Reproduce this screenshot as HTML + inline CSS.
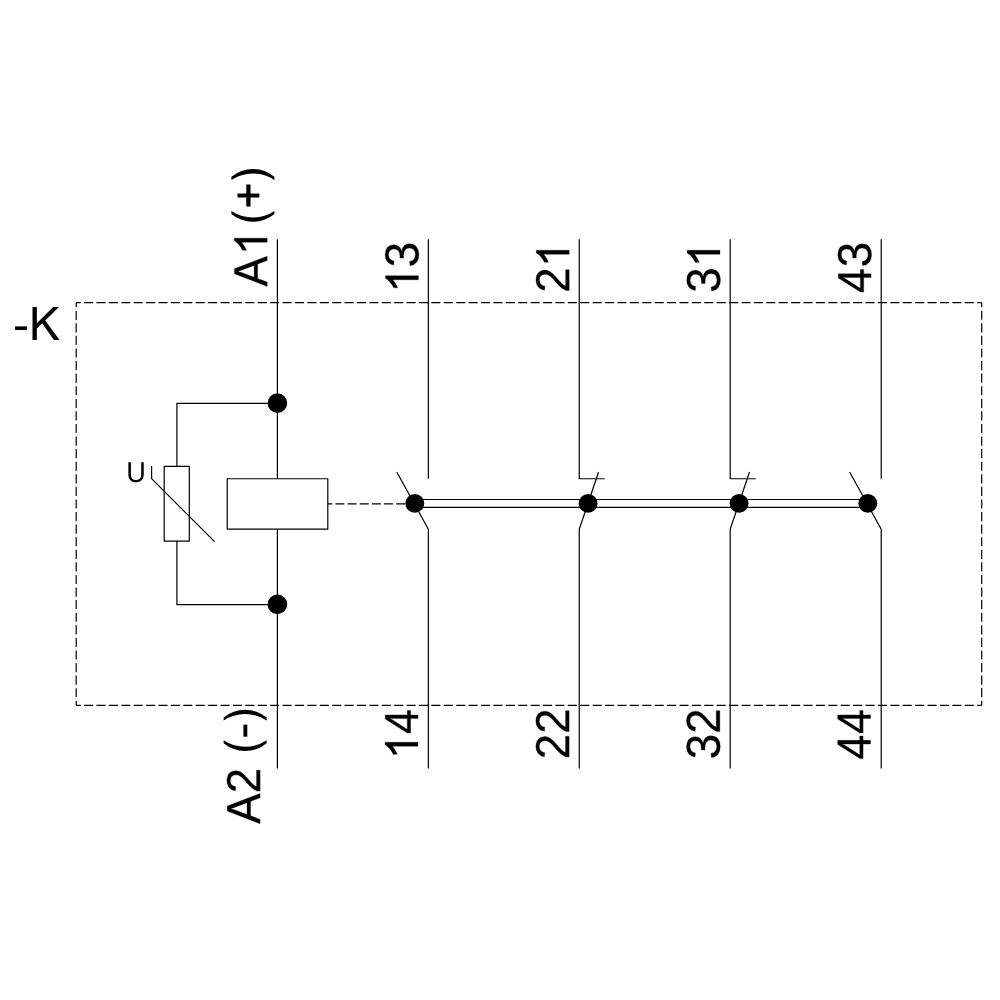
<!DOCTYPE html>
<html><head><meta charset="utf-8"><style>
html,body{margin:0;padding:0;background:#fff;width:1000px;height:1000px;overflow:hidden}
svg{display:block}
</style></head><body>
<svg width="1000" height="1000" viewBox="0 0 1000 1000">
<rect width="1000" height="1000" fill="#fff"/>
<g stroke="#000" fill="none"><line x1="76.2" y1="302.7" x2="981.7" y2="302.7" stroke-dasharray="9.055 3.349" stroke-dashoffset="4.527" stroke-width="1.2"/><line x1="981.7" y1="302.7" x2="981.7" y2="705.3" stroke-dasharray="9.184 3.397" stroke-dashoffset="4.592" stroke-width="1.2"/><line x1="981.7" y1="705.3" x2="76.2" y2="705.3" stroke-dasharray="9.055 3.349" stroke-dashoffset="4.527" stroke-width="1.2"/><line x1="76.2" y1="705.3" x2="76.2" y2="302.7" stroke-dasharray="9.184 3.397" stroke-dashoffset="4.592" stroke-width="1.2"/><path d="M277.4 239.2V478.75M277.4 529.2V768.4M227.2 478.75H327.8V529.2H227.2ZM164.2 466.3H189.3V541.2H164.2ZM277.4 403.45H176.9V466.3M176.9 541.2V604.6H277.4M151.6 466V478.7L214.6 541.7M428.35 239.2V478.8M428.35 768.4V529.2L396.75 472M579.25 239.2V478.75H604.75M579.25 768.4V529.2L598.55 472M730.2 239.2V478.75H755.7M730.2 768.4V529.2L749.5 472M881.2 239.2V478.8M881.2 768.4V529.2L849.6 472M414.8 499.5H867.8M414.8 507.3H867.8" stroke-width="1.2" stroke-linejoin="round" fill="none"/><line x1="327.8" y1="503.8" x2="405.5" y2="503.8" stroke-dasharray="9 3.15" stroke-dashoffset="4.5" stroke-width="1.2"/><g stroke="none" fill="#000"><circle cx="277.4" cy="403.1" r="9.85"/><circle cx="277.4" cy="604.4" r="9.85"/><circle cx="414.8" cy="503.4" r="9.45"/><circle cx="588.1" cy="503.4" r="9.45"/><circle cx="739.1" cy="503.35" r="9.45"/><circle cx="867.8" cy="503.4" r="9.45"/></g></g>
<g fill="#000" stroke="#000"><g transform="translate(267.20,286.60) rotate(-90)" stroke-width="13.4"><path transform="translate(0.000,0) scale(0.022363,-0.023258)" d="M1167 0 1006 412H364L202 0H4L579 1409H796L1362 0ZM685 1265 676 1237Q651 1154 602 1024L422 561H949L768 1026Q740 1095 712 1182Z"/><path transform="translate(31.348,0) scale(0.022363,-0.022363)" d="M763 0L583 0L583 1147Q518 1085 412 1023Q306 961 222 930L222 1104Q373 1175 486 1276Q599 1377 646 1472L763 1472Z"/></g><g transform="translate(264.75,224.70) rotate(-90)" stroke-width="13.4"><path transform="translate(0.000,0) scale(0.022363,-0.022363)" stroke="none" d="M478 1491A1501 1501 0 0 1 478 -431L617 -431A1732 1732 0 0 0 617 1491Z"/><path transform="translate(15.252,0) scale(0.022363,-0.022363)" stroke="none" d="M132 636H535V240H715V636H1115V826H715V1220H535V826H132Z"/><path transform="translate(43.350,0) scale(0.022363,-0.022363)" stroke="none" d="M204 1491A1501 1501 0 0 0 204 -431L65 -431A1732 1732 0 0 1 65 1491Z"/></g><g transform="translate(260.10,823.90) rotate(-90)" stroke-width="13.4"><path transform="translate(0.000,0) scale(0.022363,-0.023258)" d="M1167 0 1006 412H364L202 0H4L579 1409H796L1362 0ZM685 1265 676 1237Q651 1154 602 1024L422 561H949L768 1026Q740 1095 712 1182Z"/><path transform="translate(30.548,0) scale(0.022363,-0.023258)" d="M103 0V127Q154 244 227.5 333.5Q301 423 382.0 495.5Q463 568 542.5 630.0Q622 692 686.0 754.0Q750 816 789.5 884.0Q829 952 829 1038Q829 1154 761.0 1218.0Q693 1282 572 1282Q457 1282 382.5 1219.5Q308 1157 295 1044L111 1061Q131 1230 254.5 1330.0Q378 1430 572 1430Q785 1430 899.5 1329.5Q1014 1229 1014 1044Q1014 962 976.5 881.0Q939 800 865.0 719.0Q791 638 582 468Q467 374 399.0 298.5Q331 223 301 153H1036V0Z"/></g><g transform="translate(257.00,754.00) rotate(-90)" stroke-width="13.4"><path transform="translate(0.000,0) scale(0.022363,-0.022363)" stroke="none" d="M478 1491A1501 1501 0 0 1 478 -431L617 -431A1732 1732 0 0 0 617 1491Z"/><path transform="translate(15.252,0) scale(0.022363,-0.022363)" stroke="none" d="M92 434H630V608H92Z"/><path transform="translate(31.950,0) scale(0.022363,-0.022363)" stroke="none" d="M204 1491A1501 1501 0 0 0 204 -431L65 -431A1732 1732 0 0 1 65 1491Z"/></g><g transform="translate(418.40,292.80) rotate(-90)" stroke-width="13.4"><path transform="translate(0.000,0) scale(0.022363,-0.022363)" d="M763 0L583 0L583 1147Q518 1085 412 1023Q306 961 222 930L222 1104Q373 1175 486 1276Q599 1377 646 1472L763 1472Z"/><path transform="translate(25.472,0) scale(0.022363,-0.023258)" d="M1049 389Q1049 194 925.0 87.0Q801 -20 571 -20Q357 -20 229.5 76.5Q102 173 78 362L264 379Q300 129 571 129Q707 129 784.5 196.0Q862 263 862 395Q862 510 773.5 574.5Q685 639 518 639H416V795H514Q662 795 743.5 859.5Q825 924 825 1038Q825 1151 758.5 1216.5Q692 1282 561 1282Q442 1282 368.5 1221.0Q295 1160 283 1049L102 1063Q122 1236 245.5 1333.0Q369 1430 563 1430Q775 1430 892.5 1331.5Q1010 1233 1010 1057Q1010 922 934.5 837.5Q859 753 715 723V719Q873 702 961.0 613.0Q1049 524 1049 389Z"/></g><g transform="translate(569.20,292.80) rotate(-90)" stroke-width="13.4"><path transform="translate(0.000,0) scale(0.022363,-0.023258)" d="M103 0V127Q154 244 227.5 333.5Q301 423 382.0 495.5Q463 568 542.5 630.0Q622 692 686.0 754.0Q750 816 789.5 884.0Q829 952 829 1038Q829 1154 761.0 1218.0Q693 1282 572 1282Q457 1282 382.5 1219.5Q308 1157 295 1044L111 1061Q131 1230 254.5 1330.0Q378 1430 572 1430Q785 1430 899.5 1329.5Q1014 1229 1014 1044Q1014 962 976.5 881.0Q939 800 865.0 719.0Q791 638 582 468Q467 374 399.0 298.5Q331 223 301 153H1036V0Z"/><path transform="translate(25.472,0) scale(0.022363,-0.022363)" d="M763 0L583 0L583 1147Q518 1085 412 1023Q306 961 222 930L222 1104Q373 1175 486 1276Q599 1377 646 1472L763 1472Z"/></g><g transform="translate(720.00,292.80) rotate(-90)" stroke-width="13.4"><path transform="translate(0.000,0) scale(0.022363,-0.023258)" d="M1049 389Q1049 194 925.0 87.0Q801 -20 571 -20Q357 -20 229.5 76.5Q102 173 78 362L264 379Q300 129 571 129Q707 129 784.5 196.0Q862 263 862 395Q862 510 773.5 574.5Q685 639 518 639H416V795H514Q662 795 743.5 859.5Q825 924 825 1038Q825 1151 758.5 1216.5Q692 1282 561 1282Q442 1282 368.5 1221.0Q295 1160 283 1049L102 1063Q122 1236 245.5 1333.0Q369 1430 563 1430Q775 1430 892.5 1331.5Q1010 1233 1010 1057Q1010 922 934.5 837.5Q859 753 715 723V719Q873 702 961.0 613.0Q1049 524 1049 389Z"/><path transform="translate(25.472,0) scale(0.022363,-0.022363)" d="M763 0L583 0L583 1147Q518 1085 412 1023Q306 961 222 930L222 1104Q373 1175 486 1276Q599 1377 646 1472L763 1472Z"/></g><g transform="translate(871.10,292.80) rotate(-90)" stroke-width="13.4"><path transform="translate(0.000,0) scale(0.022363,-0.023258) translate(34,0) scale(0.974,1) translate(-47,0)" d="M881 319V0H711V319H47V459L692 1409H881V461H1079V319ZM711 1206Q709 1200 683.0 1153.0Q657 1106 644 1087L283 555L229 481L213 461H711Z"/><path transform="translate(25.472,0) scale(0.022363,-0.023258)" d="M1049 389Q1049 194 925.0 87.0Q801 -20 571 -20Q357 -20 229.5 76.5Q102 173 78 362L264 379Q300 129 571 129Q707 129 784.5 196.0Q862 263 862 395Q862 510 773.5 574.5Q685 639 518 639H416V795H514Q662 795 743.5 859.5Q825 924 825 1038Q825 1151 758.5 1216.5Q692 1282 561 1282Q442 1282 368.5 1221.0Q295 1160 283 1049L102 1063Q122 1236 245.5 1333.0Q369 1430 563 1430Q775 1430 892.5 1331.5Q1010 1233 1010 1057Q1010 922 934.5 837.5Q859 753 715 723V719Q873 702 961.0 613.0Q1049 524 1049 389Z"/></g><g transform="translate(418.00,759.30) rotate(-90)" stroke-width="13.4"><path transform="translate(0.000,0) scale(0.022363,-0.022363)" d="M763 0L583 0L583 1147Q518 1085 412 1023Q306 961 222 930L222 1104Q373 1175 486 1276Q599 1377 646 1472L763 1472Z"/><path transform="translate(25.472,0) scale(0.022363,-0.023258) translate(34,0) scale(0.974,1) translate(-47,0)" d="M881 319V0H711V319H47V459L692 1409H881V461H1079V319ZM711 1206Q709 1200 683.0 1153.0Q657 1106 644 1087L283 555L229 481L213 461H711Z"/></g><g transform="translate(569.10,759.30) rotate(-90)" stroke-width="13.4"><path transform="translate(0.000,0) scale(0.022363,-0.023258)" d="M103 0V127Q154 244 227.5 333.5Q301 423 382.0 495.5Q463 568 542.5 630.0Q622 692 686.0 754.0Q750 816 789.5 884.0Q829 952 829 1038Q829 1154 761.0 1218.0Q693 1282 572 1282Q457 1282 382.5 1219.5Q308 1157 295 1044L111 1061Q131 1230 254.5 1330.0Q378 1430 572 1430Q785 1430 899.5 1329.5Q1014 1229 1014 1044Q1014 962 976.5 881.0Q939 800 865.0 719.0Q791 638 582 468Q467 374 399.0 298.5Q331 223 301 153H1036V0Z"/><path transform="translate(25.472,0) scale(0.022363,-0.023258)" d="M103 0V127Q154 244 227.5 333.5Q301 423 382.0 495.5Q463 568 542.5 630.0Q622 692 686.0 754.0Q750 816 789.5 884.0Q829 952 829 1038Q829 1154 761.0 1218.0Q693 1282 572 1282Q457 1282 382.5 1219.5Q308 1157 295 1044L111 1061Q131 1230 254.5 1330.0Q378 1430 572 1430Q785 1430 899.5 1329.5Q1014 1229 1014 1044Q1014 962 976.5 881.0Q939 800 865.0 719.0Q791 638 582 468Q467 374 399.0 298.5Q331 223 301 153H1036V0Z"/></g><g transform="translate(719.80,759.30) rotate(-90)" stroke-width="13.4"><path transform="translate(0.000,0) scale(0.022363,-0.023258)" d="M1049 389Q1049 194 925.0 87.0Q801 -20 571 -20Q357 -20 229.5 76.5Q102 173 78 362L264 379Q300 129 571 129Q707 129 784.5 196.0Q862 263 862 395Q862 510 773.5 574.5Q685 639 518 639H416V795H514Q662 795 743.5 859.5Q825 924 825 1038Q825 1151 758.5 1216.5Q692 1282 561 1282Q442 1282 368.5 1221.0Q295 1160 283 1049L102 1063Q122 1236 245.5 1333.0Q369 1430 563 1430Q775 1430 892.5 1331.5Q1010 1233 1010 1057Q1010 922 934.5 837.5Q859 753 715 723V719Q873 702 961.0 613.0Q1049 524 1049 389Z"/><path transform="translate(25.472,0) scale(0.022363,-0.023258)" d="M103 0V127Q154 244 227.5 333.5Q301 423 382.0 495.5Q463 568 542.5 630.0Q622 692 686.0 754.0Q750 816 789.5 884.0Q829 952 829 1038Q829 1154 761.0 1218.0Q693 1282 572 1282Q457 1282 382.5 1219.5Q308 1157 295 1044L111 1061Q131 1230 254.5 1330.0Q378 1430 572 1430Q785 1430 899.5 1329.5Q1014 1229 1014 1044Q1014 962 976.5 881.0Q939 800 865.0 719.0Q791 638 582 468Q467 374 399.0 298.5Q331 223 301 153H1036V0Z"/></g><g transform="translate(870.50,759.30) rotate(-90)" stroke-width="13.4"><path transform="translate(0.000,0) scale(0.022363,-0.023258) translate(34,0) scale(0.974,1) translate(-47,0)" d="M881 319V0H711V319H47V459L692 1409H881V461H1079V319ZM711 1206Q709 1200 683.0 1153.0Q657 1106 644 1087L283 555L229 481L213 461H711Z"/><path transform="translate(25.472,0) scale(0.022363,-0.023258) translate(34,0) scale(0.974,1) translate(-47,0)" d="M881 319V0H711V319H47V459L692 1409H881V461H1079V319ZM711 1206Q709 1200 683.0 1153.0Q657 1106 644 1087L283 555L229 481L213 461H711Z"/></g><rect x="15.1" y="326.4" width="11.9" height="3.6" stroke="none"/><path transform="translate(29.15,339.9) scale(0.022363,-0.022363)" stroke="none" d="M150 0V1466H344V739L1072 1466H1335L720 872L1362 0H1106L584 742L344 508V0Z"/><g transform="translate(126.30,482.00)" stroke-width="3.8"><path transform="translate(0.000,0) scale(0.013184,-0.013975)" d="M731 -20Q558 -20 429.0 43.0Q300 106 229.0 226.0Q158 346 158 512V1409H349V528Q349 335 447.0 235.0Q545 135 730 135Q920 135 1025.5 238.5Q1131 342 1131 541V1409H1321V530Q1321 359 1248.5 235.0Q1176 111 1043.5 45.5Q911 -20 731 -20Z"/></g></g>
</svg>
</body></html>
